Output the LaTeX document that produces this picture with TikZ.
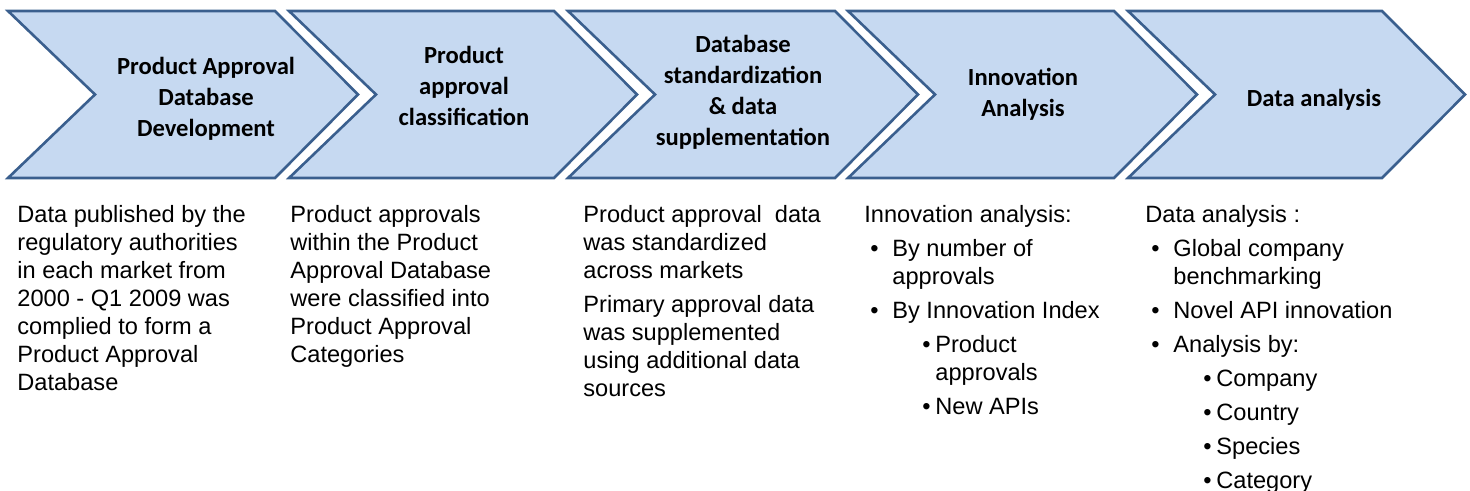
\documentclass[tikz,border=0pt]{standalone}
\usepackage{fontspec}
\setmainfont{Liberation Sans}
\newfontfamily\headfont{Carlito}
\definecolor{chevfill}{HTML}{C6D9F1}
\definecolor{chevline}{HTML}{3A5F8E}
\def\bul{\hspace*{3pt}\makebox[11pt][l]{\textbullet}}
\def\cont{\hspace*{14pt}}
\def\sbul{\hspace*{29pt}\makebox[6.5pt][l]{\textbullet}}
\def\scont{\hspace*{35.5pt}}
\def\gap{\\[3pt]}
\tikzset{
  chevron/.style={fill=chevfill, draw=chevline, line width=1.3pt, line join=miter},
  head/.style={align=center, inner sep=0pt, font=\headfont\bfseries\fontsize{12.3}{15.5}\selectfont},
  body/.style={align=left, anchor=north west, inner sep=0pt, font=\fontsize{11.8}{14}\selectfont}
}

\begin{document}
\begin{tikzpicture}[x=0.5pt, y=-0.5pt]
\useasboundingbox (0,0) rectangle (1470,491);

\foreach \xl/\xr in {8/275, 289/554, 568/835, 848/1114, 1128/1382}{
\draw[chevron] (\xl,11) -- (\xr,11) -- (\xr+83,94.5) -- (\xr,178) -- (\xl,178) -- (\xl+87,94.5) -- cycle;
}

\node[head] (h1) at (206,99) {Product Approval\\Database\\Development};
\node[head] (h2) at (464,86) {Product\\approval\\classification};
\node[head] (h3) at (743,92) {Database\\standardization\\\& data\\supplementation};
\node[head] (h4) at (1023,94) {Innovation\\Analysis};
\node[head] (h5) at (1314,100) {Data analysis};

\node[body] (t1) at (17,205) {Data published by the\\regulatory authorities\\in each market from\\2000 - Q1 2009 was\\complied to form a\\Product Approval\\Database};
\node[body] (t2) at (290,205) {Product approvals\\within the Product\\Approval Database\\were classified into\\Product Approval\\Categories};
\node[body] (t3) at (583,205) {Product approval~ data\\was standardized\\across markets\gap
Primary approval data\\was supplemented\\using additional data\\sources};
\node[body] (t4) at (864,205) {Innovation analysis:\gap
\bul By number of\\\cont approvals\gap
\bul By Innovation Index\gap
\sbul Product\\\scont approvals\gap
\sbul New APIs};
\node[body] (t5) at (1145,205) {Data analysis :\gap
\bul Global company\\\cont benchmarking\gap
\bul Novel API innovation\gap
\bul Analysis by:\gap
\sbul Company\gap
\sbul Country\gap
\sbul Species\gap
\sbul Category};
\end{tikzpicture}
\end{document}
